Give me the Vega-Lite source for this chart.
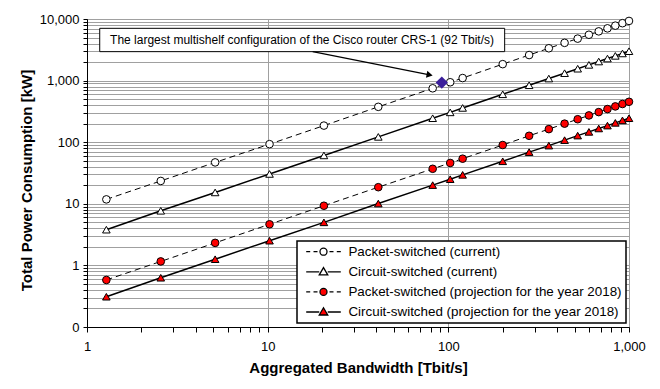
{
  "$schema": "https://vega.github.io/schema/vega-lite/v6.json",
  "width": 542,
  "height": 308,
  "autosize": "none",
  "padding": {"left": 87, "top": 19, "right": 31, "bottom": 62},
  "background": "white",
  "config": {
    "view": {"stroke": "black", "strokeWidth": 1},
    "font": "Liberation Sans",
    "axis": {
      "domainColor": "black",
      "tickColor": "black",
      "gridColor": "#a0a0a0",
      "gridWidth": 1,
      "labelFont": "Liberation Sans",
      "labelFontSize": 13,
      "labelColor": "black",
      "titleFont": "Liberation Sans",
      "titleFontSize": 15,
      "titleFontWeight": "bold",
      "titleColor": "black",
      "labelOverlap": false,
      "labelFlush": false
    },
    "legend": {
      "title": null,
      "orient": "none",
      "legendX": 210,
      "legendY": 222,
      "padding": 4,
      "fillColor": "white",
      "strokeColor": "black",
      "strokeWidth": 1.5,
      "symbolSize": 100,
      "symbolStrokeColor": "black",
      "symbolStrokeWidth": 1.3,
      "symbolOffset": 15.8,
      "labelOffset": 18.2,
      "rowPadding": 5.1,
      "labelFont": "Liberation Sans",
      "labelFontSize": 13.4,
      "labelColor": "black",
      "labelLimit": 400
    }
  },
  "datasets": {
    "rows": [
      {"bandwidth": 1.28, "series": "Packet-switched (current)", "power": 11.8},
      {"bandwidth": 2.56, "series": "Packet-switched (current)", "power": 23.5},
      {"bandwidth": 5.12, "series": "Packet-switched (current)", "power": 47},
      {"bandwidth": 10.24, "series": "Packet-switched (current)", "power": 93},
      {"bandwidth": 20.48, "series": "Packet-switched (current)", "power": 186},
      {"bandwidth": 40.96, "series": "Packet-switched (current)", "power": 375},
      {"bandwidth": 81.92, "series": "Packet-switched (current)", "power": 750},
      {"bandwidth": 102.4, "series": "Packet-switched (current)", "power": 940},
      {"bandwidth": 120, "series": "Packet-switched (current)", "power": 1100},
      {"bandwidth": 200, "series": "Packet-switched (current)", "power": 1850},
      {"bandwidth": 280, "series": "Packet-switched (current)", "power": 2600},
      {"bandwidth": 360, "series": "Packet-switched (current)", "power": 3350},
      {"bandwidth": 440, "series": "Packet-switched (current)", "power": 4100},
      {"bandwidth": 520, "series": "Packet-switched (current)", "power": 4800},
      {"bandwidth": 600, "series": "Packet-switched (current)", "power": 5550},
      {"bandwidth": 680, "series": "Packet-switched (current)", "power": 6300},
      {"bandwidth": 760, "series": "Packet-switched (current)", "power": 7050},
      {"bandwidth": 840, "series": "Packet-switched (current)", "power": 7800},
      {"bandwidth": 920, "series": "Packet-switched (current)", "power": 8550},
      {"bandwidth": 1000, "series": "Packet-switched (current)", "power": 9300},
      {"bandwidth": 1.28, "series": "Circuit-switched (current)", "power": 3.8},
      {"bandwidth": 2.56, "series": "Circuit-switched (current)", "power": 7.7},
      {"bandwidth": 5.12, "series": "Circuit-switched (current)", "power": 15.3},
      {"bandwidth": 10.24, "series": "Circuit-switched (current)", "power": 30.5},
      {"bandwidth": 20.48, "series": "Circuit-switched (current)", "power": 61},
      {"bandwidth": 40.96, "series": "Circuit-switched (current)", "power": 122},
      {"bandwidth": 81.92, "series": "Circuit-switched (current)", "power": 245},
      {"bandwidth": 102.4, "series": "Circuit-switched (current)", "power": 305},
      {"bandwidth": 120, "series": "Circuit-switched (current)", "power": 360},
      {"bandwidth": 200, "series": "Circuit-switched (current)", "power": 600},
      {"bandwidth": 280, "series": "Circuit-switched (current)", "power": 840},
      {"bandwidth": 360, "series": "Circuit-switched (current)", "power": 1080},
      {"bandwidth": 440, "series": "Circuit-switched (current)", "power": 1320},
      {"bandwidth": 520, "series": "Circuit-switched (current)", "power": 1560},
      {"bandwidth": 600, "series": "Circuit-switched (current)", "power": 1800},
      {"bandwidth": 680, "series": "Circuit-switched (current)", "power": 2040},
      {"bandwidth": 760, "series": "Circuit-switched (current)", "power": 2280},
      {"bandwidth": 840, "series": "Circuit-switched (current)", "power": 2520},
      {"bandwidth": 920, "series": "Circuit-switched (current)", "power": 2760},
      {"bandwidth": 1000, "series": "Circuit-switched (current)", "power": 3000},
      {"bandwidth": 1.28, "series": "Packet-switched (projection for the year 2018)", "power": 0.58},
      {"bandwidth": 2.56, "series": "Packet-switched (projection for the year 2018)", "power": 1.16},
      {"bandwidth": 5.12, "series": "Packet-switched (projection for the year 2018)", "power": 2.32},
      {"bandwidth": 10.24, "series": "Packet-switched (projection for the year 2018)", "power": 4.65},
      {"bandwidth": 20.48, "series": "Packet-switched (projection for the year 2018)", "power": 9.3},
      {"bandwidth": 40.96, "series": "Packet-switched (projection for the year 2018)", "power": 18.6},
      {"bandwidth": 81.92, "series": "Packet-switched (projection for the year 2018)", "power": 37},
      {"bandwidth": 102.4, "series": "Packet-switched (projection for the year 2018)", "power": 46},
      {"bandwidth": 120, "series": "Packet-switched (projection for the year 2018)", "power": 54},
      {"bandwidth": 200, "series": "Packet-switched (projection for the year 2018)", "power": 90},
      {"bandwidth": 280, "series": "Packet-switched (projection for the year 2018)", "power": 127},
      {"bandwidth": 360, "series": "Packet-switched (projection for the year 2018)", "power": 163},
      {"bandwidth": 440, "series": "Packet-switched (projection for the year 2018)", "power": 200},
      {"bandwidth": 520, "series": "Packet-switched (projection for the year 2018)", "power": 236},
      {"bandwidth": 600, "series": "Packet-switched (projection for the year 2018)", "power": 272},
      {"bandwidth": 680, "series": "Packet-switched (projection for the year 2018)", "power": 308},
      {"bandwidth": 760, "series": "Packet-switched (projection for the year 2018)", "power": 345},
      {"bandwidth": 840, "series": "Packet-switched (projection for the year 2018)", "power": 381},
      {"bandwidth": 920, "series": "Packet-switched (projection for the year 2018)", "power": 417},
      {"bandwidth": 1000, "series": "Packet-switched (projection for the year 2018)", "power": 453},
      {"bandwidth": 1.28, "series": "Circuit-switched (projection for the year 2018)", "power": 0.31},
      {"bandwidth": 2.56, "series": "Circuit-switched (projection for the year 2018)", "power": 0.63},
      {"bandwidth": 5.12, "series": "Circuit-switched (projection for the year 2018)", "power": 1.26},
      {"bandwidth": 10.24, "series": "Circuit-switched (projection for the year 2018)", "power": 2.52},
      {"bandwidth": 20.48, "series": "Circuit-switched (projection for the year 2018)", "power": 5.0},
      {"bandwidth": 40.96, "series": "Circuit-switched (projection for the year 2018)", "power": 10.1},
      {"bandwidth": 81.92, "series": "Circuit-switched (projection for the year 2018)", "power": 20.1},
      {"bandwidth": 102.4, "series": "Circuit-switched (projection for the year 2018)", "power": 25.1},
      {"bandwidth": 120, "series": "Circuit-switched (projection for the year 2018)", "power": 29.5},
      {"bandwidth": 200, "series": "Circuit-switched (projection for the year 2018)", "power": 49},
      {"bandwidth": 280, "series": "Circuit-switched (projection for the year 2018)", "power": 69},
      {"bandwidth": 360, "series": "Circuit-switched (projection for the year 2018)", "power": 88},
      {"bandwidth": 440, "series": "Circuit-switched (projection for the year 2018)", "power": 108},
      {"bandwidth": 520, "series": "Circuit-switched (projection for the year 2018)", "power": 128},
      {"bandwidth": 600, "series": "Circuit-switched (projection for the year 2018)", "power": 147},
      {"bandwidth": 680, "series": "Circuit-switched (projection for the year 2018)", "power": 167},
      {"bandwidth": 760, "series": "Circuit-switched (projection for the year 2018)", "power": 186},
      {"bandwidth": 840, "series": "Circuit-switched (projection for the year 2018)", "power": 206},
      {"bandwidth": 920, "series": "Circuit-switched (projection for the year 2018)", "power": 226},
      {"bandwidth": 1000, "series": "Circuit-switched (projection for the year 2018)", "power": 245}
    ],
    "crs1": [
      {"bandwidth": 92, "power": 930, "note": "The largest multishelf configuration of the Cisco router CRS-1 (92 Tbit/s)"}
    ]
  },
  "layer": [
    {
      "data": {"name": "rows"},
      "transform": [{"filter": {"field": "series", "oneOf": ["Packet-switched (current)", "Packet-switched (projection for the year 2018)"]}}],
      "mark": {"type": "line", "color": "black", "strokeWidth": 1, "strokeDash": [6, 4]},
      "encoding": {
        "x": {
          "field": "bandwidth", "type": "quantitative",
          "scale": {"type": "log", "domain": [1, 1000], "nice": false},
          "axis": {
            "title": "Aggregated Bandwidth [Tbit/s]",
            "values": [1, 2, 3, 4, 5, 6, 7, 8, 9, 10, 20, 30, 40, 50, 60, 70, 80, 90, 100, 200, 300, 400, 500, 600, 700, 800, 900, 1000],
            "labelExpr": "indexof([1, 10, 100, 1000], datum.value) >= 0 ? format(datum.value, ',') : ''",
            "gridOpacity": {"condition": {"test": "indexof([1, 10, 100, 1000], datum.value) >= 0", "value": 1}, "value": 0},
            "tickSize": 5,
            "labelPadding": 8,
            "titlePadding": 7
          }
        },
        "y": {
          "field": "power", "type": "quantitative",
          "scale": {"type": "log", "domain": [0.1, 10000], "nice": false},
          "axis": {
            "title": "Total Power Consumption [kW]",
            "values": [0.1, 0.2, 0.3, 0.4, 0.5, 0.6, 0.7, 0.8, 0.9, 1, 2, 3, 4, 5, 6, 7, 8, 9, 10, 20, 30, 40, 50, 60, 70, 80, 90, 100, 200, 300, 400, 500, 600, 700, 800, 900, 1000, 2000, 3000, 4000, 5000, 6000, 7000, 8000, 9000, 10000],
            "labelExpr": "indexof([0.1, 1, 10, 100, 1000, 10000], datum.value) >= 0 ? (datum.value < 1 ? '0' : format(datum.value, ',')) : ''",
            "tickSize": 4,
            "labelPadding": 4,
            "titlePadding": 5,
            "titleY": 161
          }
        },
        "detail": {"field": "series", "type": "nominal"}
      }
    },
    {
      "data": {"name": "rows"},
      "transform": [{"filter": {"field": "series", "oneOf": ["Circuit-switched (current)", "Circuit-switched (projection for the year 2018)"]}}],
      "mark": {"type": "line", "color": "black", "strokeWidth": 1.5},
      "encoding": {
        "x": {"field": "bandwidth", "type": "quantitative"},
        "y": {"field": "power", "type": "quantitative"},
        "detail": {"field": "series", "type": "nominal"}
      }
    },
    {
      "data": {"name": "rows"},
      "mark": {"type": "point", "filled": true, "stroke": "black", "strokeWidth": 1, "size": 58, "opacity": 1},
      "encoding": {
        "x": {"field": "bandwidth", "type": "quantitative"},
        "y": {"field": "power", "type": "quantitative"},
        "shape": {
          "field": "series", "type": "nominal",
          "scale": {"domain": ["Packet-switched (current)", "Circuit-switched (current)", "Packet-switched (projection for the year 2018)", "Circuit-switched (projection for the year 2018)"], "range": ["circle", "triangle-up", "circle", "triangle-up"]},
          "legend": null
        },
        "fill": {
          "field": "series", "type": "nominal",
          "scale": {"domain": ["Packet-switched (current)", "Circuit-switched (current)", "Packet-switched (projection for the year 2018)", "Circuit-switched (projection for the year 2018)"], "range": ["white", "white", "#ff0000", "#ff0000"]},
          "legend": null
        }
      }
    },
    {
      "data": {"values": [{}]},
      "mark": {"type": "rect", "fill": "white", "stroke": "black", "strokeWidth": 1},
      "encoding": {
        "x": {"datum": 1.176, "type": "quantitative"},
        "x2": {"datum": 205},
        "y": {"datum": 7060, "type": "quantitative"},
        "y2": {"datum": 2951}
      }
    },
    {
      "data": {"values": [{}]},
      "mark": {"type": "rule", "color": "black", "strokeWidth": 1.2},
      "encoding": {
        "x": {"datum": 17.75, "type": "quantitative"},
        "x2": {"datum": 78.8},
        "y": {"datum": 2951, "type": "quantitative"},
        "y2": {"datum": 1237}
      }
    },
    {
      "data": {"values": [{}]},
      "mark": {"type": "point", "shape": "triangle-right", "filled": true, "color": "black", "size": 50, "angle": 11, "opacity": 1},
      "encoding": {
        "x": {"datum": 78.8, "type": "quantitative"},
        "y": {"datum": 1237, "type": "quantitative"}
      }
    },
    {
      "data": {"name": "crs1"},
      "mark": {"type": "text", "font": "Liberation Sans", "fontSize": 12, "color": "black", "align": "center", "baseline": "middle"},
      "encoding": {
        "x": {"datum": 15.5, "type": "quantitative"},
        "y": {"datum": 4570, "type": "quantitative"},
        "text": {"field": "note"}
      }
    },
    {
      "data": {"name": "crs1"},
      "mark": {"type": "point", "shape": "diamond", "filled": true, "color": "#3b1f9b", "size": 150, "opacity": 1},
      "encoding": {
        "x": {"field": "bandwidth", "type": "quantitative"},
        "y": {"field": "power", "type": "quantitative"}
      }
    },
    {
      "data": {"name": "rows"},
      "transform": [{"filter": "false"}],
      "mark": {"type": "point", "filled": true, "opacity": 1},
      "encoding": {
        "shape": {
          "field": "series", "type": "nominal",
          "scale": {
            "domain": ["Packet-switched (current)", "Circuit-switched (current)", "Packet-switched (projection for the year 2018)", "Circuit-switched (projection for the year 2018)"],
            "range": [
              "M-3.46,0H-2.66M-2,0H-1.2M1.2,0H2M2.66,0H3.46M-0.7,0A0.7,0.7,0,1,0,0.7,0A0.7,0.7,0,1,0,-0.7,0Z",
              "M-3.46,0H-0.85M0.85,0H3.46M0,-0.85L0.85,0.6L-0.85,0.6Z",
              "M-3.46,0H-2.66M-2,0H-1.2M1.2,0H2M2.66,0H3.46M-0.7,0A0.7,0.7,0,1,0,0.7,0A0.7,0.7,0,1,0,-0.7,0Z",
              "M-3.46,0H-0.85M0.85,0H3.46M0,-0.85L0.85,0.6L-0.85,0.6Z"
            ]
          }
        },
        "fill": {
          "field": "series", "type": "nominal",
          "scale": {
            "domain": ["Packet-switched (current)", "Circuit-switched (current)", "Packet-switched (projection for the year 2018)", "Circuit-switched (projection for the year 2018)"],
            "range": ["white", "white", "#ff0000", "#ff0000"]
          }
        },
        "stroke": {
          "field": "series", "type": "nominal",
          "scale": {
            "domain": ["Packet-switched (current)", "Circuit-switched (current)", "Packet-switched (projection for the year 2018)", "Circuit-switched (projection for the year 2018)"],
            "range": ["black", "black", "black", "black"]
          }
        }
      }
    }
  ],
  "resolve": {"scale": {"shape": "independent", "fill": "independent", "stroke": "independent"}}
}
